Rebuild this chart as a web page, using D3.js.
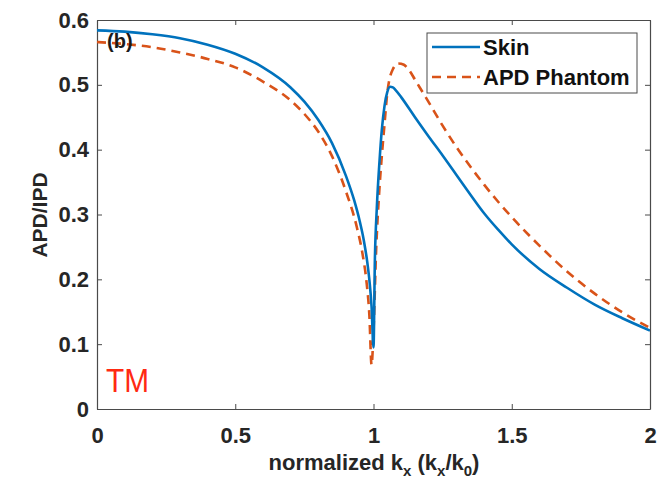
<!DOCTYPE html>
<html>
<head>
<meta charset="utf-8">
<script src="https://cdn.jsdelivr.net/npm/d3@7"></script>
<style>
  html, body { margin: 0; padding: 0; background: #fff; }
  svg { display: block; }
  text { font-family: "Liberation Sans", Arial, sans-serif; }
</style>
</head>
<body>
<svg id="chart" width="671" height="484"></svg>
<script>
// Normalized transverse wavenumber samples and APD/IPD ratio for each medium
const skinKx = [0, 0.1, 0.2, 0.3, 0.4, 0.5, 0.6, 0.7, 0.75, 0.8, 0.85, 0.9, 0.93, 0.95, 0.965, 0.977, 0.986, 0.993, 1.0,
                1.005, 1.012, 1.022, 1.03, 1.04, 1.05, 1.06, 1.07, 1.08, 1.1, 1.15, 1.2, 1.25, 1.3, 1.35, 1.4,
                1.45, 1.5, 1.6, 1.7, 1.8, 1.9, 2.0];
const skinVal = [0.584, 0.582, 0.578, 0.572, 0.562, 0.548, 0.527, 0.496, 0.474, 0.446, 0.41, 0.36, 0.322, 0.29, 0.26, 0.228, 0.195, 0.158, 0.095,
                 0.23, 0.31, 0.384, 0.43, 0.468, 0.489, 0.497, 0.496, 0.492, 0.481, 0.45, 0.42, 0.391, 0.361, 0.331, 0.302,
                 0.277, 0.254, 0.216, 0.187, 0.161, 0.14, 0.121];

const phantomKx = [0, 0.1, 0.2, 0.3, 0.4, 0.5, 0.6, 0.7, 0.75, 0.8, 0.85, 0.9, 0.94, 0.96, 0.975, 0.985, 0.993,
                   1.0, 1.01, 1.02, 1.03, 1.04, 1.05, 1.07, 1.09, 1.11, 1.13, 1.15, 1.2, 1.25, 1.3, 1.35, 1.4, 1.45,
                   1.5, 1.6, 1.7, 1.8, 1.9, 2.0];
const phantomVal = [0.566, 0.563, 0.558, 0.55, 0.54, 0.527, 0.505, 0.476, 0.455, 0.428, 0.39, 0.336, 0.28, 0.24, 0.195, 0.145, 0.068,
                    0.12, 0.25, 0.33, 0.39, 0.44, 0.488, 0.524, 0.533, 0.531, 0.522, 0.508, 0.473, 0.437, 0.404, 0.374, 0.346, 0.32,
                    0.296, 0.252, 0.212, 0.178, 0.149, 0.125];

const xTicks = [0, 0.5, 1, 1.5, 2];
const xTickLabels = ["0", "0.5", "1", "1.5", "2"];
const yTicks = [0, 0.1, 0.2, 0.3, 0.4, 0.5, 0.6];
const yTickLabels = ["0", "0.1", "0.2", "0.3", "0.4", "0.5", "0.6"];

const seriesNames = ["Skin", "APD Phantom"];
const seriesColors = ["#0072BD", "#D95319"];

const svg = d3.select("#chart");
const plotLeft = 97, plotRight = 650, plotTop = 20, plotBottom = 409;

const x = d3.scaleLinear().domain([0, 2]).range([plotLeft, plotRight]);
const y = d3.scaleLinear().domain([0, 0.6]).range([plotBottom, plotTop]);

const axisColor = "#4a4a4a";
const labelColor = "#262626";

// Clip for data lines
svg.append("defs").append("clipPath").attr("id", "plotclip")
  .append("rect").attr("x", plotLeft).attr("y", plotTop - 2)
  .attr("width", plotRight - plotLeft).attr("height", plotBottom - plotTop + 4);

function styleAxis(g, showLabels) {
  g.select(".domain").attr("stroke", axisColor).attr("stroke-width", 1.2);
  g.selectAll(".tick line").attr("stroke", axisColor).attr("stroke-width", 1);
  g.selectAll(".tick text")
    .attr("fill", labelColor)
    .attr("font-size", 22)
    .attr("font-weight", "bold")
    .attr("font-family", "'Liberation Sans', Arial, sans-serif")
    .style("display", showLabels ? null : "none");
}

// Bottom axis
svg.append("g").attr("transform", `translate(0,${plotBottom})`)
  .call(d3.axisBottom(x).tickValues(xTicks).tickFormat((d, i) => xTickLabels[i])
    .tickSizeInner(-5).tickSizeOuter(0).tickPadding(18))
  .call(g => styleAxis(g, true));

// Top axis (ticks only)
svg.append("g").attr("transform", `translate(0,${plotTop})`)
  .call(d3.axisTop(x).tickValues(xTicks).tickSizeInner(-5).tickSizeOuter(0))
  .call(g => styleAxis(g, false));

// Left axis
svg.append("g").attr("transform", `translate(${plotLeft},0)`)
  .call(d3.axisLeft(y).tickValues(yTicks).tickFormat((d, i) => yTickLabels[i])
    .tickSizeInner(-5).tickSizeOuter(0).tickPadding(8))
  .call(g => styleAxis(g, true));

// Right axis (ticks only)
svg.append("g").attr("transform", `translate(${plotRight},0)`)
  .call(d3.axisRight(y).tickValues(yTicks).tickSizeInner(-5).tickSizeOuter(0))
  .call(g => styleAxis(g, false));

// Data lines
const line = d3.line().x(d => x(d[0])).y(d => y(d[1])).curve(d3.curveMonotoneX);
const skinData = skinKx.map((k, i) => [k, skinVal[i]]);
const phantomData = phantomKx.map((k, i) => [k, phantomVal[i]]);

const plot = svg.append("g").attr("clip-path", "url(#plotclip)");
plot.append("path").datum(phantomData)
  .attr("d", line).attr("fill", "none")
  .attr("stroke", seriesColors[1]).attr("stroke-width", 2.6)
  .attr("stroke-dasharray", "9,6");
plot.append("path").datum(skinData)
  .attr("d", line).attr("fill", "none")
  .attr("stroke", seriesColors[0]).attr("stroke-width", 2.6);

// Panel tag
svg.append("text").attr("x", 107).attr("y", 48)
  .attr("font-size", 20).attr("font-weight", "bold").attr("fill", "#1a1a1a")
  .text("(b)");

// Polarization tag
svg.append("text").attr("x", 106).attr("y", 392)
  .attr("font-size", 34).attr("fill", "#ff2a12")
  .attr("font-family", "'Open Sans', 'Liberation Sans', sans-serif")
  .attr("textLength", 43).attr("lengthAdjust", "spacingAndGlyphs")
  .text("TM");

// Legend
const lg = svg.append("g");
lg.append("rect").attr("x", 427).attr("y", 33).attr("width", 210).attr("height", 60)
  .attr("fill", "#fff").attr("stroke", axisColor).attr("stroke-width", 1);
const legendY = [47, 77];
seriesNames.forEach((name, i) => {
  lg.append("line").attr("x1", 432).attr("x2", 480)
    .attr("y1", legendY[i]).attr("y2", legendY[i])
    .attr("stroke", seriesColors[i]).attr("stroke-width", 2.6)
    .attr("stroke-dasharray", i === 1 ? "9,6" : null);
  lg.append("text").attr("x", 483).attr("y", legendY[i] + 8)
    .attr("font-size", 22).attr("font-weight", "bold").attr("fill", "#111")
    .text(name);
});

// Axis titles
svg.append("text")
  .attr("transform", `translate(47,215) rotate(-90)`)
  .attr("text-anchor", "middle")
  .attr("font-size", 21).attr("font-weight", "bold").attr("fill", labelColor)
  .text("APD/IPD");

const xl = svg.append("text").attr("x", 374).attr("y", 470)
  .attr("text-anchor", "middle")
  .attr("font-size", 22).attr("font-weight", "bold").attr("fill", labelColor);
xl.append("tspan").text("normalized k");
xl.append("tspan").attr("dy", 6).attr("font-size", 15).text("x");
xl.append("tspan").attr("dy", -6).text(" (k");
xl.append("tspan").attr("dy", 6).attr("font-size", 15).text("x");
xl.append("tspan").attr("dy", -6).text("/k");
xl.append("tspan").attr("dy", 6).attr("font-size", 15).text("0");
xl.append("tspan").attr("dy", -6).text(")");
</script>
</body>
</html>
